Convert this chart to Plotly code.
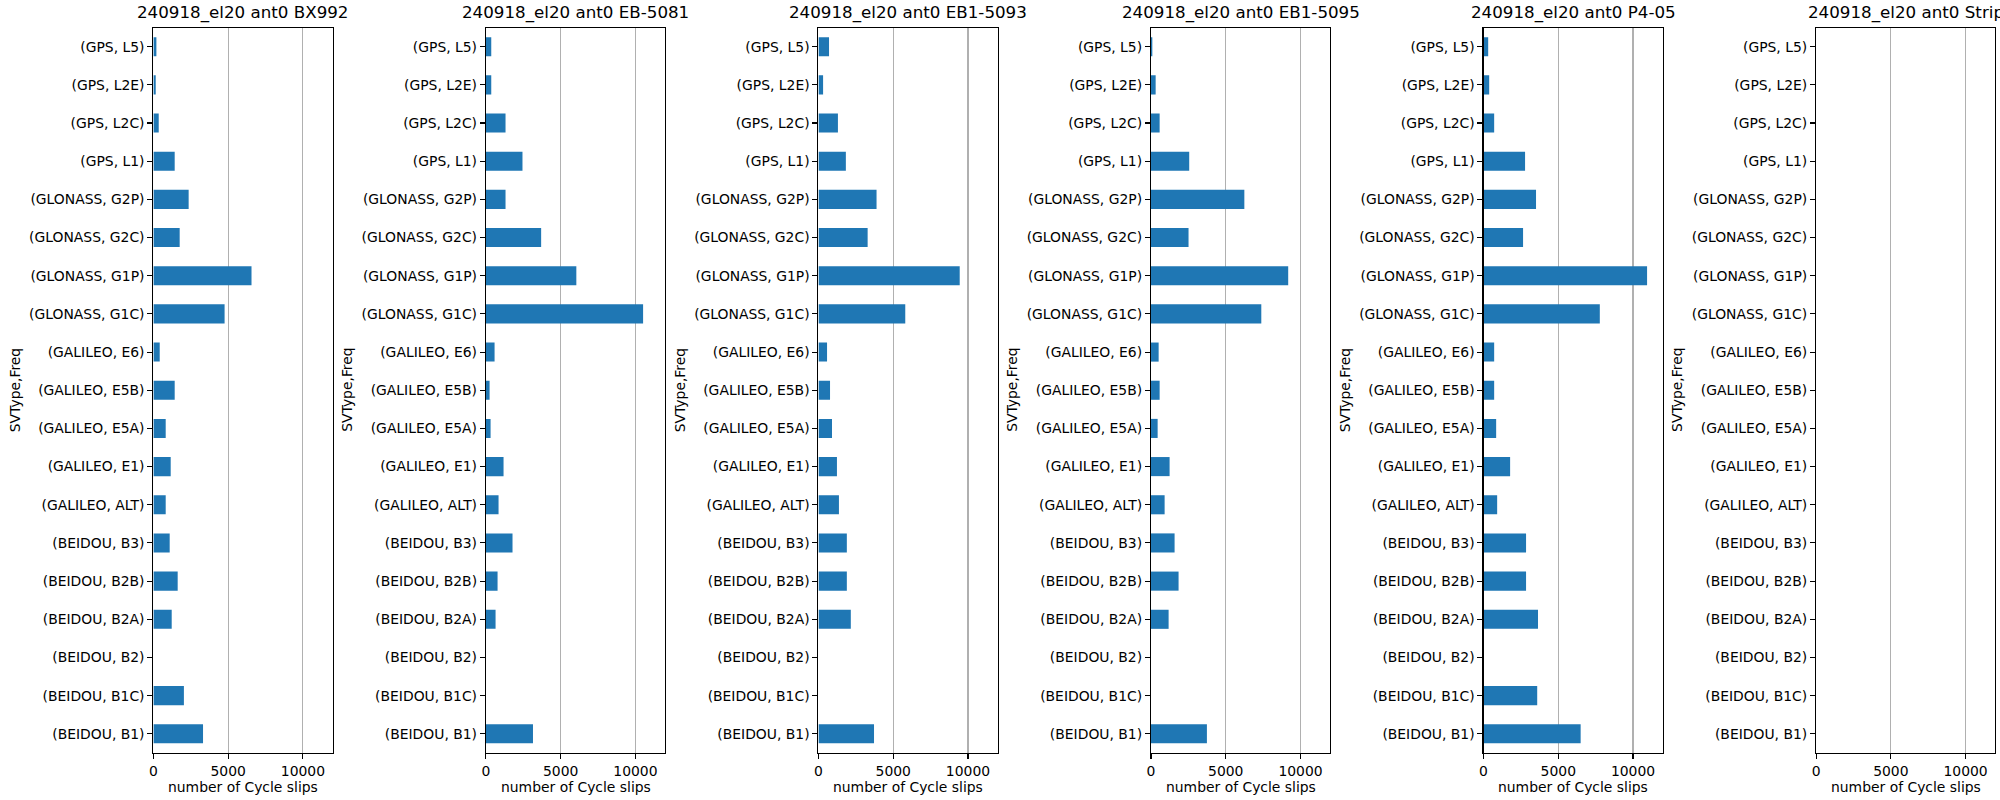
import plotly.graph_objects as go

categories = [
    "(BEIDOU, B1)", "(BEIDOU, B1C)", "(BEIDOU, B2)", "(BEIDOU, B2A)", "(BEIDOU, B2B)", "(BEIDOU, B3)",
    "(GALILEO, ALT)", "(GALILEO, E1)", "(GALILEO, E5A)", "(GALILEO, E5B)", "(GALILEO, E6)",
    "(GLONASS, G1C)", "(GLONASS, G1P)", "(GLONASS, G2C)", "(GLONASS, G2P)",
    "(GPS, L1)", "(GPS, L2C)", "(GPS, L2E)", "(GPS, L5)",
]

titles = [
    "240918_el20 ant0 BX992",
    "240918_el20 ant0 EB-5081",
    "240918_el20 ant0 EB1-5093",
    "240918_el20 ant0 EB1-5095",
    "240918_el20 ant0 P4-05",
    "240918_el20 ant0 Strip",
]

# values in the same order as categories (bottom to top)
bx992 = [3320, 2040, 0, 1224, 1624, 1090, 823, 1157, 823, 1424, 423,
         4762, 6563, 1758, 2358, 1424, 356, 155, 200]
eb5081 = [3147, 0, 0, 644, 778, 1778, 844, 1178, 311, 244, 578,
          10513, 6047, 3693, 1311, 2444, 1311, 356, 356]
eb1_5093 = [3716, 0, 0, 2163, 1898, 1898, 1369, 1236, 905, 773, 574,
            5806, 9448, 3289, 3885, 1832, 1302, 309, 707]
eb1_5095 = [3740, 0, 0, 1178, 1844, 1578, 911, 1244, 444, 578, 511,
            7378, 9178, 2511, 6244, 2556, 578, 311, 89]
p4_05 = [6496, 3590, 0, 3644, 2844, 2844, 911, 1778, 844, 711, 711,
         7778, 10940, 2644, 3511, 2778, 711, 378, 311]
strip = [None] * len(categories)

series = [bx992, eb5081, eb1_5093, eb1_5095, p4_05, strip]

W, H = 2000, 800
ax_left0 = 149.7
ax_w = 179.6
ax_step = 333.2
ax_top = 27.6
ax_bot = 752.9
x_max = 11990

font_family = "DejaVu Sans"
tick_size = 13.9
title_size = 16.7
bar_color = "#1f77b4"

fig = go.Figure()
annotations = []
for i, (vals, ttl) in enumerate(zip(series, titles)):
    idx = i + 1
    xa = "x" if idx == 1 else f"x{idx}"
    ya = "y" if idx == 1 else f"y{idx}"
    fig.add_trace(go.Bar(
        x=vals, y=categories, orientation="h", xaxis=xa, yaxis=ya,
        marker=dict(color=bar_color, line=dict(width=0)), width=0.5,
        showlegend=False, hoverinfo="skip",
    ))
    left = ax_left0 + i * ax_step
    right = left + ax_w
    d0 = left / W
    d1 = min(right / W, 1.0)
    xkey = "xaxis" if idx == 1 else f"xaxis{idx}"
    ykey = "yaxis" if idx == 1 else f"yaxis{idx}"
    fig.layout[xkey] = dict(
        domain=[d0, d1], range=[0, x_max], anchor=ya,
        tickvals=[0, 5000, 10000], ticktext=["0", "5000", "10000"],
        showgrid=True, gridcolor="#b0b0b0", gridwidth=1.1,
        zeroline=False, showline=True, mirror=True, linecolor="black", linewidth=1.1,
        ticks="outside", ticklen=5, tickwidth=1.1, tickcolor="black",
        tickfont=dict(family=font_family, size=tick_size, color="black"),
        fixedrange=True,
    )
    fig.layout[ykey] = dict(
        domain=[1 - ax_bot / H, 1 - ax_top / H], anchor=xa,
        type="category", categoryorder="array", categoryarray=categories,
        range=[-0.5, len(categories) - 0.5],
        showgrid=False, zeroline=False, showline=True, mirror=True,
        linecolor="black", linewidth=1.1,
        ticks="outside", ticklen=5, tickwidth=1.1, tickcolor="black",
        tickfont=dict(family=font_family, size=tick_size, color="black"),
        fixedrange=True,
    )
    cx = (left + right) / 2 / W
    annotations.append(dict(
        text=ttl, x=cx, y=1 - 12.5 / H, xref="paper", yref="paper",
        xanchor="center", yanchor="middle", showarrow=False,
        font=dict(family=font_family, size=title_size, color="black"),
    ))
    annotations.append(dict(
        text="number of Cycle slips", x=cx, y=1 - 787 / H, xref="paper", yref="paper",
        xanchor="center", yanchor="middle", showarrow=False,
        font=dict(family=font_family, size=tick_size, color="black"),
    ))
    annotations.append(dict(
        text="SVType,Freq", x=(left - 138.7) / W, y=1 - ((ax_top + ax_bot) / 2) / H,
        xref="paper", yref="paper", xanchor="center", yanchor="middle",
        textangle=-90, showarrow=False,
        font=dict(family=font_family, size=tick_size, color="black"),
    ))

fig.update_layout(
    width=W, height=H,
    margin=dict(l=0, r=0, t=0, b=0),
    paper_bgcolor="white", plot_bgcolor="white",
    annotations=annotations,
    bargap=0.5,
    hovermode=False,
)

fig.write_html(
    "out.html",
    config={"displayModeBar": False, "staticPlot": True},
    post_script="document.body.style.margin='0';document.body.style.overflow='hidden';",
)
